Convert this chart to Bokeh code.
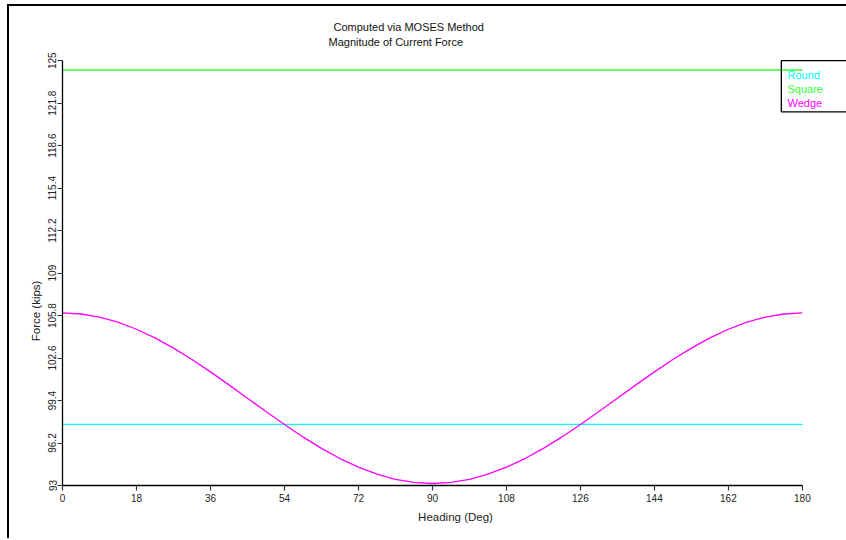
import math
from bokeh.plotting import figure
from bokeh.models import FixedTicker, Label, Range1d
from bokeh.embed import file_html
from bokeh.resources import INLINE

# ---- data ----
heading = [0, 4.5, 9, 13.5, 18, 22.5, 27, 31.5, 36, 40.5, 45, 49.5, 54, 58.5, 63, 67.5,
           72, 76.5, 81, 85.5, 90, 94.5, 99, 103.5, 108, 112.5, 117, 121.5, 126, 130.5,
           135, 139.5, 144, 148.5, 153, 157.5, 162, 166.5, 171, 175.5, 180]
wedge_force = [106.00, 105.92, 105.69, 105.30, 104.77, 104.12, 103.35, 102.49, 101.56,
               100.58, 99.58, 98.57, 97.59, 96.66, 95.80, 95.03, 94.38, 93.85, 93.46,
               93.23, 93.15, 93.23, 93.46, 93.85, 94.38, 95.03, 95.80, 96.66, 97.59,
               98.57, 99.58, 100.58, 101.56, 102.49, 103.35, 104.12, 104.77, 105.30,
               105.69, 105.92, 106.00]
const_heading = [0, 180]
round_force = [97.6, 97.6]
square_force = [124.3, 124.3]

series_names = ["Round", "Square", "Wedge"]
series_colors = ["#00ffff", "#33ff33", "#ff00ff"]

title_lines = ["Computed via MOSES Method", "Magnitude of Current Force"]

x_ticks = [0, 18, 36, 54, 72, 90, 108, 126, 144, 162, 180]
y_ticks = [93, 96.2, 99.4, 102.6, 105.8, 109, 112.2, 115.4, 118.6, 121.8, 125]
y_tick_labels = ["93", "96.2", "99.4", "102.6", "105.8", "109", "112.2", "115.4",
                 "118.6", "121.8", "125"]
x_min, x_max = 0, 180
y_min, y_max = 93, 125

FONT = "Liberation Sans"

# ---- layout (pixels) ----
OFF_X, OFF_Y = 9, 8            # canvas origin inside the page (after outer frame border)
CW, CH = 846 - OFF_X, 540 - OFF_Y
FL, FR_AX, FT_AX, FB = 62, 800, 62, 485   # page px of axis extents
FT = 10                        # frame top (page px); titles sit inside the frame
px_x = (FR_AX - FL) / (x_max - x_min)
px_y = (FB - FT_AX) / (y_max - y_min)
x_end = x_max + (OFF_X + CW - FR_AX) / px_x
y_top = y_max + (FT_AX - FT) / px_y

def page_x(px):
    return x_min + (px - FL) / px_x

def page_y(py):
    return y_min + (FB - py) / px_y

p = figure(width=CW, height=CH, output_backend="svg", toolbar_location=None,
           x_range=Range1d(x_min, x_end), y_range=Range1d(y_min, y_top),
           min_border_left=FL - OFF_X, min_border_right=0, min_border_top=FT - OFF_Y,
           min_border_bottom=CH - (FB - OFF_Y))
p.margin = (4, 0, 0, 7)
p.styles = {"border-top": "2px solid black", "border-left": "2px solid black",
            "box-sizing": "content-box"}
p.title = None
p.outline_line_color = None
p.xgrid.visible = False
p.ygrid.visible = False
p.background_fill_color = "white"
p.border_fill_color = "white"

# titles (two lines above the axes)
for txt, tx, ty in zip(title_lines, [333, 328], [26, 41]):
    p.add_layout(Label(x=tx - FL, y=FB - ty, x_units="screen", y_units="screen",
                       text=txt, text_font=FONT, text_font_size="11px",
                       text_color="#111111", text_baseline="middle", text_align="left"))

# lines
p.line(const_heading, round_force, line_color=series_colors[0], line_width=1.3)
p.line(const_heading, square_force, line_color=series_colors[1], line_width=1.3)
p.line(heading, wedge_force, line_color=series_colors[2], line_width=1.3)

# axes
for ax in (p.xaxis[0], p.yaxis[0]):
    ax.axis_line_color = "black"
    ax.axis_line_width = 1.3
    ax.major_tick_line_color = "#333333"
    ax.major_tick_line_width = 1.2
    ax.major_tick_out = 5
    ax.major_tick_in = 0
    ax.minor_tick_line_color = None
    ax.major_label_text_font = FONT
    ax.major_label_text_font_size = "10px"
    ax.major_label_text_color = "#222222"
    ax.axis_label_text_font = FONT
    ax.axis_label_text_font_size = "11.5px"
    ax.axis_label_text_font_style = "normal"
    ax.axis_label_text_color = "#222222"

p.xaxis.ticker = FixedTicker(ticks=x_ticks)
p.xaxis.bounds = (x_min, x_max)
p.xaxis.axis_label = "Heading (Deg)"
p.xaxis.major_label_standoff = 3
p.xaxis.axis_label_standoff = 6

p.yaxis.ticker = FixedTicker(ticks=y_ticks)
p.yaxis.bounds = (y_min, y_max)
p.yaxis.major_label_overrides = {t: s for t, s in zip(y_ticks, y_tick_labels)}
p.yaxis.major_label_orientation = "parallel"
p.yaxis.axis_label = "Force (kips)" + "\u00a0" * 40
p.yaxis.major_label_standoff = 1
p.yaxis.axis_label_standoff = 4

# legend box: a frame-clipped rectangle running off the right edge
p.quad(left=[page_x(779)], right=[page_x(900)], top=[page_y(62)], bottom=[page_y(113)],
       fill_alpha=0, line_color="black", line_width=1.3)

for i, (name, col) in enumerate(zip(series_names, series_colors)):
    lab = Label(x=787 - FL, y=(FB - 74) - 14 * i, x_units="screen", y_units="screen",
                text=name, text_color=col, text_font=FONT, text_font_size="11px",
                text_baseline="middle", text_align="left")
    p.add_layout(lab)

open("out.html", "w").write(file_html(p, INLINE))
